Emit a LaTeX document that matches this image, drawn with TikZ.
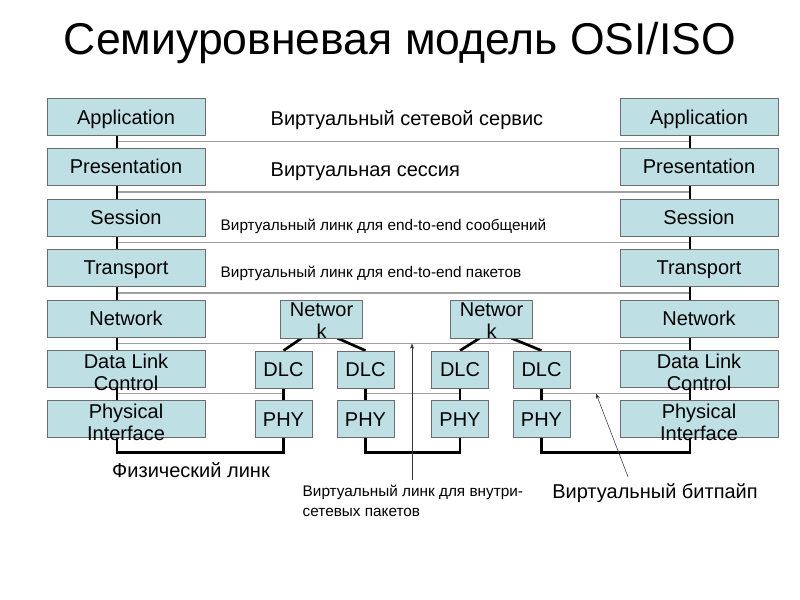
\documentclass[tikz,border=0pt]{standalone}
\usepackage{fontspec}
\setmainfont{Liberation Sans}
\usetikzlibrary{calc,backgrounds,arrows.meta}

\definecolor{layerfill}{RGB}{190,224,228}
\tikzset{
  layer/.style={draw=gray!85!black, fill=layerfill, minimum width=118.5pt, minimum height=27.75pt,
    inner sep=0pt, font=\fontsize{15}{16.5}\selectfont},
  onerow/.style={text height=10.7pt, text depth=0pt},
  hop/.style={layer, onerow, minimum width=42.75pt, minimum height=28pt},
  hopnet/.style={layer, minimum width=61.5pt, minimum height=28.5pt},
  peer/.style={gray!75, line width=1pt},
  wire/.style={black, line width=2pt},
  pointer/.style={gray!40!black, line width=0.4pt, -{Stealth[length=4pt,width=3pt]}},
  note/.style={font=\fontsize{15}{18}\selectfont},
  smallnote/.style={font=\fontsize{11.5}{15}\selectfont},
}

\begin{document}
\begin{tikzpicture}[x=0.75pt, y=-0.75pt]
\useasboundingbox (0,0) rectangle (800,600);

\node[font=\fontsize{33.4}{40}\selectfont] (title) at (400,43) {Семиуровневая модель OSI/ISO};

% the two end stacks
\foreach \s/\x in {l/126, r/699} {
  \foreach \n/\t/\y in {App/Application/117, Pres/Presentation/166.5, Ses/Session/217.5,
                        Tr/Transport/267.5, Net/Network/318.5}
    \node[layer, onerow] (\s\n) at (\x,\y) {\t};
  \node[layer] (\s Dlc) at (\x,368.5)
    {\smash{\begin{tabular}[t]{@{}c@{}}Data Link\\Control\end{tabular}}};
  \node[layer] (\s Phy) at (\x,418.5)
    {\smash{\begin{tabular}[t]{@{}c@{}}Physical\\Interface\end{tabular}}};
}

% intermediate nodes
\node[hopnet] (n1) at (321.5,319)
  {\smash{\raisebox{2pt}{\begin{tabular}[t]{@{}c@{}}Networ\\k\end{tabular}}}};
\node[hopnet] (n2) at (491.5,319)
  {\smash{\raisebox{2pt}{\begin{tabular}[t]{@{}c@{}}Networ\\k\end{tabular}}}};
\foreach \i/\x in {1/283.5, 2/365.5, 3/460, 4/541.5} {
  \node[hop] (d\i) at (\x,369.5) {DLC};
  \node[hop] (p\i) at (\x,419) {PHY};
}

\begin{scope}[on background layer]
  \foreach \u/\v [count=\i] in {App/Pres, Pres/Ses, Ses/Tr, Tr/Net, Net/Dlc, Dlc/Phy} {
    \coordinate (lg\i) at ($(l\u.south)!0.5!(l\v.north)+(-9,0)$);
    \coordinate (rg\i) at ($(r\u.south)!0.5!(r\v.north)+(-9,0)$);
  }
  \foreach \i in {1,...,5}
    \draw[peer] (lg\i) -- (rg\i);
  \draw[peer] (lg6) -- (lg6 -| d1.center)
              (d2.center |- lg6) -- (d3.center |- lg6)
              (d4.center |- lg6) -- (rg6);

  \coordinate (lb) at ($(lPhy.south)+(-9,15)$);
  \coordinate (rb) at ($(rPhy.south)+(-9,15)$);
  \draw[wire] (lApp.south -| lb) -- (lb) -| (p1.center);
  \draw[wire] (p2.center) -- (p2.center |- lb) -| (p3.center);
  \draw[wire] (rApp.south -| rb) -- (rb) -| (p4.center);
  \foreach \i in {1,...,4}
    \draw[wire] (d\i.center) -- (p\i.center);
  \draw[wire] ($(n1.south)+(-20,0)$) -- (d1.north);
  \draw[wire] ($(n1.south)+(16,0)$) -- (d2.north);
  \draw[wire] ($(n2.south)+(-12,0)$) -- (d3.north);
  \draw[wire] ($(n2.south)+(20,0)$) -- (d4.north);
\end{scope}

% labels of the peer links
\node[note, anchor=west] (svc) at (266,120) {Виртуальный сетевой сервис};
\node[note, anchor=west] (sess) at (266,172) {Виртуальная сессия};
\node[smallnote, anchor=west] (msg) at (216,226) {Виртуальный линк для end-to-end сообщений};
\node[smallnote, anchor=west] (pkt) at (216,273) {Виртуальный линк для end-to-end пакетов};
\node[note] (phys) at (191,470) {Физический линк};
\node[smallnote, align=left, anchor=north west] (intra) at (298,480)
  {Виртуальный линк для внутри-\\сетевых пакетов};
\node[note] (bitpipe) at (655,493) {Виртуальный битпайп};

\coordinate (intratop) at ($(intra.north west)+(114,0)$);
\draw[pointer] (intratop) -- (intratop |- lg5);
\draw[pointer] ($(bitpipe.north)+(-27,-2)$) -- (596,0 |- lg6);
\end{tikzpicture}
\end{document}
